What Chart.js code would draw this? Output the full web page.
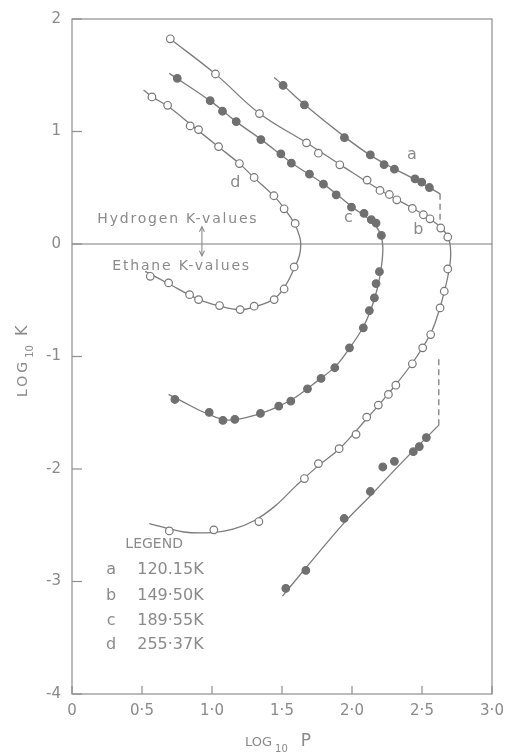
<!DOCTYPE html>
<html><head><meta charset="utf-8">
<script src="https://cdn.jsdelivr.net/npm/chart.js@4"></script>
<style>html,body{margin:0;padding:0;background:#fff}canvas{display:block}</style>
</head><body>
<canvas id="c" width="505" height="753"></canvas>
<script>
// ---------- axis ticks ----------
const xTicks = [0, 0.5, 1, 1.5, 2, 2.5, 3];
const xTickLabels = ['0', '0·5', '1·0', '1·5', '2·0', '2·5', '3·0'];
const yTicks = [-4, -3, -2, -1, 0, 1, 2];
const yTickLabels = ['-4', '-3', '-2', '-1', '0', '1', '2'];

// ---------- legend ----------
const seriesLetters = ['a', 'b', 'c', 'd'];
const seriesTemps = ['120.15K', '149·50K', '189·55K', '255·37K'];

// ---------- measured points (log10 P, log10 K) ----------
// a : 120.15 K (filled) - hydrogen branch and ethane branch
const aHydX = [1.508, 1.66, 1.946, 2.131, 2.229, 2.303, 2.45, 2.498, 2.553];
const aHydY = [1.41, 1.236, 0.946, 0.792, 0.706, 0.665, 0.579, 0.55, 0.502];
const aEthX = [1.527, 1.67, 1.944, 2.131, 2.22, 2.303, 2.438, 2.481, 2.531];
const aEthY = [-3.061, -2.902, -2.44, -2.2, -1.982, -1.932, -1.846, -1.801, -1.721];
// b : 149.50 K (open)
const bX = [0.702, 1.025, 1.339, 1.675, 1.76, 1.913, 2.108, 2.2, 2.267, 2.32, 2.431, 2.51, 2.557, 2.634, 2.684,
            2.684, 2.659, 2.629, 2.562, 2.505, 2.431, 2.313, 2.26, 2.188, 2.105, 2.029, 1.908, 1.76, 1.66, 1.335, 1.013, 0.695];
const bY = [1.824, 1.511, 1.159, 0.899, 0.807, 0.704, 0.568, 0.476, 0.44, 0.393, 0.316, 0.26, 0.224, 0.142, 0.062,
            -0.222, -0.42, -0.568, -0.805, -0.923, -1.065, -1.255, -1.337, -1.432, -1.539, -1.692, -1.819, -1.952, -2.085, -2.467, -2.541, -2.55];
// c : 189.55 K (filled)
const cX = [0.752, 0.987, 1.075, 1.173, 1.349, 1.492, 1.567, 1.696, 1.796, 1.887, 1.996, 2.086, 2.138, 2.172, 2.21,
            2.196, 2.172, 2.16, 2.124, 2.081, 1.982, 1.877, 1.779, 1.682, 1.563, 1.477, 1.346, 1.163, 1.078, 0.98, 0.735];
const cY = [1.473, 1.274, 1.18, 1.088, 0.928, 0.801, 0.719, 0.621, 0.532, 0.437, 0.328, 0.272, 0.216, 0.186, 0.076,
            -0.246, -0.352, -0.479, -0.592, -0.745, -0.923, -1.1, -1.195, -1.287, -1.396, -1.441, -1.506, -1.559, -1.568, -1.497, -1.382];
// d : 255.37 K (open)
const dX = [0.571, 0.683, 0.844, 0.904, 1.047, 1.196, 1.301, 1.442, 1.515, 1.594,
            1.587, 1.515, 1.444, 1.301, 1.201, 1.054, 0.904, 0.84, 0.69, 0.559];
const dY = [1.307, 1.233, 1.05, 1.017, 0.866, 0.715, 0.591, 0.429, 0.313, 0.183,
            -0.204, -0.4, -0.494, -0.553, -0.583, -0.547, -0.494, -0.45, -0.346, -0.287];

// ---------- fitted curves ----------
const aHydCurveX = [1.444, 1.51, 1.66, 1.95, 2.13, 2.3, 2.45, 2.629];
const aHydCurveY = [1.48, 1.41, 1.24, 0.95, 0.79, 0.67, 0.575, 0.446];
const aHydDashX = [2.629, 2.629];
const aHydDashY = [0.446, 0.18];
const aEthCurveX = [1.503, 1.67, 1.95, 2.13, 2.35, 2.62];
const aEthCurveY = [-3.13, -2.88, -2.47, -2.24, -1.95, -1.61];
const aEthDashX = [2.62, 2.62];
const aEthDashY = [-1.61, -1.02];
const bCurveX = [0.70, 1.025, 1.34, 1.675, 1.91, 2.2, 2.43, 2.56, 2.64, 2.69, 2.705, 2.695, 2.66, 2.62, 2.56, 2.43, 2.26, 2.1, 1.91, 1.76, 1.6, 1.45, 1.3, 1.15, 1.0, 0.8, 0.552];
const bCurveY = [1.824, 1.51, 1.16, 0.9, 0.71, 0.48, 0.32, 0.22, 0.14, 0.05, -0.08, -0.22, -0.42, -0.6, -0.8, -1.06, -1.33, -1.56, -1.82, -1.97, -2.15, -2.33, -2.46, -2.535, -2.565, -2.56, -2.485];
const cCurveX = [0.695, 0.99, 1.17, 1.35, 1.57, 1.8, 2.0, 2.14, 2.2, 2.22, 2.21, 2.18, 2.13, 2.07, 1.98, 1.88, 1.76, 1.6, 1.48, 1.34, 1.12, 0.95, 0.85, 0.69];
const cCurveY = [1.517, 1.27, 1.09, 0.93, 0.72, 0.53, 0.33, 0.2, 0.1, -0.02, -0.2, -0.4, -0.6, -0.76, -0.93, -1.09, -1.21, -1.36, -1.44, -1.51, -1.565, -1.5, -1.44, -1.337];
const dCurveX = [0.511, 0.571, 0.69, 0.87, 1.05, 1.2, 1.3, 1.44, 1.52, 1.59, 1.625, 1.634, 1.625, 1.59, 1.52, 1.44, 1.3, 1.2, 1.05, 0.9, 0.7, 0.523];
const dCurveY = [1.369, 1.31, 1.22, 1.04, 0.86, 0.71, 0.59, 0.43, 0.31, 0.18, 0.07, 0.0, -0.1, -0.21, -0.38, -0.49, -0.56, -0.585, -0.55, -0.49, -0.36, -0.243];

// ---------- styling ----------
const LINE = '#7c7c7c';
const TEXT = '#8a8a8a';
const FONT = '"DejaVu Sans", sans-serif';

const pts = (xs, ys) => xs.map((x, i) => ({x, y: ys[i]}));

function curve(xs, ys, dash) {
  return {data: pts(xs, ys), showLine: true, pointRadius: 0, borderColor: LINE, borderWidth: 1.3,
          tension: dash ? 0 : 0.4, borderDash: dash ? [6, 4] : [], fill: false, order: 2};
}
function marks(xs, ys, filled) {
  return {data: pts(xs, ys), showLine: false, pointRadius: 3.8, pointHoverRadius: 3.8,
          pointBackgroundColor: filled ? '#707070' : '#ffffff', pointBorderColor: filled ? '#707070' : '#777777',
          pointBorderWidth: 1.2, order: 1};
}

const decor = {
  id: 'decor',
  beforeDatasetsDraw(chart) {
    const {ctx, chartArea: ca, scales: {x, y}} = chart;
    ctx.save();
    ctx.strokeStyle = '#8e8e8e';
    ctx.lineWidth = 1.2;
    ctx.strokeRect(ca.left, ca.top, ca.right - ca.left, ca.bottom - ca.top);
    // zero line
    ctx.strokeStyle = LINE;
    ctx.beginPath(); ctx.moveTo(ca.left, y.getPixelForValue(0)); ctx.lineTo(ca.right, y.getPixelForValue(0)); ctx.stroke();
    // inside ticks
    ctx.strokeStyle = '#8e8e8e';
    yTicks.forEach(v => { const p = y.getPixelForValue(v); ctx.beginPath(); ctx.moveTo(ca.left, p); ctx.lineTo(ca.left + 10, p); ctx.stroke(); });
    xTicks.forEach(v => { const p = x.getPixelForValue(v); ctx.beginPath(); ctx.moveTo(p, ca.bottom); ctx.lineTo(p, ca.bottom - 8); ctx.stroke(); });
    ctx.restore();
  },
  afterDraw(chart) {
    const {ctx, scales: {x, y}} = chart;
    const X = v => x.getPixelForValue(v), Y = v => y.getPixelForValue(v);
    const hasLS = 'letterSpacing' in ctx;
    ctx.save();
    ctx.fillStyle = TEXT;
    ctx.textBaseline = 'middle';
    // curve letters
    ctx.font = '16px ' + FONT;
    ctx.textAlign = 'center';
    [[2.427, 0.792], [2.474, 0.127], [1.974, 0.231], [1.166, 0.547]].forEach((p, i) => ctx.fillText(seriesLetters[i], X(p[0]), Y(p[1])));
    // Hydrogen / Ethane notes
    ctx.textAlign = 'left';
    ctx.font = '14px ' + FONT;
    if (hasLS) ctx.letterSpacing = '1.8px';
    ctx.fillText('Hydrogen K-values', X(0.181), Y(0.216));
    ctx.fillText('Ethane K-values', X(0.288), Y(-0.201));
    if (hasLS) ctx.letterSpacing = '0px';
    // double arrow
    const ax = X(0.928), a1 = Y(0.154), a2 = Y(-0.104);
    ctx.strokeStyle = TEXT; ctx.lineWidth = 1.1;
    ctx.beginPath(); ctx.moveTo(ax, a1); ctx.lineTo(ax, a2); ctx.stroke();
    ctx.beginPath(); ctx.moveTo(ax - 2.5, a1 + 5); ctx.lineTo(ax, a1); ctx.lineTo(ax + 2.5, a1 + 5); ctx.stroke();
    ctx.beginPath(); ctx.moveTo(ax - 2.5, a2 - 5); ctx.lineTo(ax, a2); ctx.lineTo(ax + 2.5, a2 - 5); ctx.stroke();
    // legend
    ctx.font = '14px ' + FONT;
    ctx.fillText('LEGEND', X(0.381), Y(-2.668));
    const rows = [-2.899, -3.13, -3.352, -3.565];
    rows.forEach((r, i) => {
      ctx.font = '16px ' + FONT;
      ctx.textAlign = 'center';
      ctx.fillText(seriesLetters[i], X(0.28), Y(r));
      ctx.textAlign = 'left';
      ctx.fillText(seriesTemps[i], X(0.466), Y(r));
    });
    // axis titles
    ctx.textBaseline = 'alphabetic';
    ctx.textAlign = 'left';
    // x title
    let px = 245, by = 746;
    ctx.font = '13px ' + FONT; ctx.fillText('LOG', px, by); px += ctx.measureText('LOG').width + 3;
    ctx.font = '10px ' + FONT; ctx.fillText('10', px, by + 6); px += ctx.measureText('10').width + 13;
    ctx.font = '17px ' + FONT; ctx.fillText('P', px, by);
    // y title (rotated)
    ctx.translate(27, 397);
    ctx.rotate(-Math.PI / 2);
    px = 0;
    if (hasLS) ctx.letterSpacing = '3px';
    ctx.font = '14px ' + FONT; ctx.fillText('LOG', px, 0); px += ctx.measureText('LOG').width + 1;
    if (hasLS) ctx.letterSpacing = '0px';
    ctx.font = '10px ' + FONT; ctx.fillText('10', px, 6); px += ctx.measureText('10').width + 9;
    ctx.font = '16px ' + FONT; ctx.fillText('K', px, 0);
    ctx.restore();
  }
};

new Chart(document.getElementById('c'), {
  type: 'scatter',
  data: {
    datasets: [
      curve(aHydCurveX, aHydCurveY), curve(aHydDashX, aHydDashY, true),
      curve(aEthCurveX, aEthCurveY), curve(aEthDashX, aEthDashY, true),
      curve(bCurveX, bCurveY), curve(cCurveX, cCurveY), curve(dCurveX, dCurveY),
      marks(aHydX, aHydY, true), marks(aEthX, aEthY, true),
      marks(bX, bY, false), marks(cX, cY, true), marks(dX, dY, false)
    ]
  },
  options: {
    responsive: false,
    animation: false,
    events: [],
    layout: {padding: {top: 19, right: 13, left: 0, bottom: 0}},
    plugins: {legend: {display: false}, tooltip: {enabled: false}},
    scales: {
      x: {
        type: 'linear', min: 0, max: 3,
        afterBuildTicks: s => { s.ticks = xTicks.map(v => ({value: v})); },
        afterFit: s => { s.height = 59; s.paddingLeft = 0; s.paddingRight = 0; },
        grid: {display: false, drawTicks: false}, border: {display: false},
        ticks: {padding: 8, color: TEXT, font: {family: FONT, size: 15}, maxRotation: 0,
                callback: v => xTickLabels[xTicks.indexOf(v)]}
      },
      y: {
        type: 'linear', min: -4, max: 2,
        afterBuildTicks: s => { s.ticks = yTicks.map(v => ({value: v})); },
        afterFit: s => { s.width = 72; s.paddingTop = 0; s.paddingBottom = 0; },
        grid: {display: false, drawTicks: false}, border: {display: false},
        ticks: {padding: 11, color: TEXT, font: {family: FONT, size: 15},
                callback: v => yTickLabels[yTicks.indexOf(v)]}
      }
    }
  },
  plugins: [decor]
});
</script>
</body></html>
